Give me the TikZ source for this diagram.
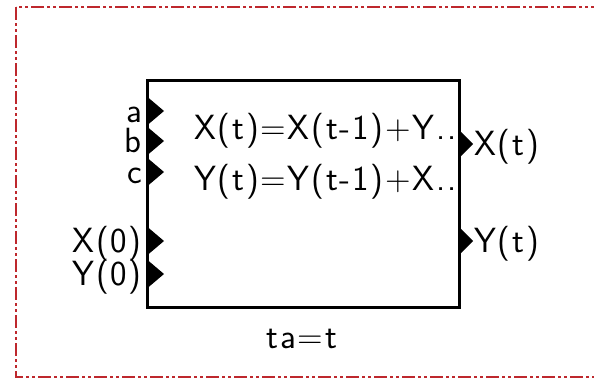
\documentclass[tikz,border=0pt]{standalone}
\usepackage{fontspec}
\setsansfont{Latin Modern Sans}[LetterSpace=5]
\definecolor{framered}{RGB}{190,40,45}
\tikzset{
  port/.style={fill=black},
  portlabel/.style={inner xsep=2pt, inner ysep=0pt, text height=22pt, text depth=0pt}
}
\begin{document}
\begin{tikzpicture}[x=1pt,y=-1pt,font=\sffamily\fontsize{35}{40}\selectfont]
\useasboundingbox (0,0) rectangle (594,380);
% enclosing frame, cut at the right
\begin{scope}
\clip (0,0) rectangle (594,380);
\draw[framered, line width=2.5pt, dash pattern=on 13pt off 3pt on 3pt off 3pt on 3pt off 3pt] (16,7) rectangle (640,377);
\end{scope}
% block
\node[draw, line width=2.5pt, minimum width=312pt, minimum height=227pt, inner sep=0pt, anchor=north west] (blk) at (146,79) {};
\node[anchor=west, inner sep=0pt] (eqx) at (194,131) {X(t)=X(t-1)+Y..};
\node[anchor=west, inner sep=0pt] (eqy) at (194,182) {Y(t)=Y(t-1)+X..};
\node (ta) at (302,339) {ta=t};
% input ports
\foreach \y/\lab/\nm in {111/a/ina,141/b/inb,172/c/inc,241/X(0)/inx,274/Y(0)/iny} {
  \fill[port] (147.5,\y-14) -- (164,\y) -- (147.5,\y+14) -- cycle;
  \node[portlabel, anchor=east] (\nm) at (144,\y) {\lab};
}
% output ports
\foreach \y/\lab/\nm in {144/X(t)/outx,241/Y(t)/outy} {
  \fill[port] (458,\y-15) -- (473,\y) -- (458,\y+15) -- cycle;
  \node[portlabel, anchor=west] (\nm) at (472,\y) {\lab};
}
\end{tikzpicture}
\end{document}
